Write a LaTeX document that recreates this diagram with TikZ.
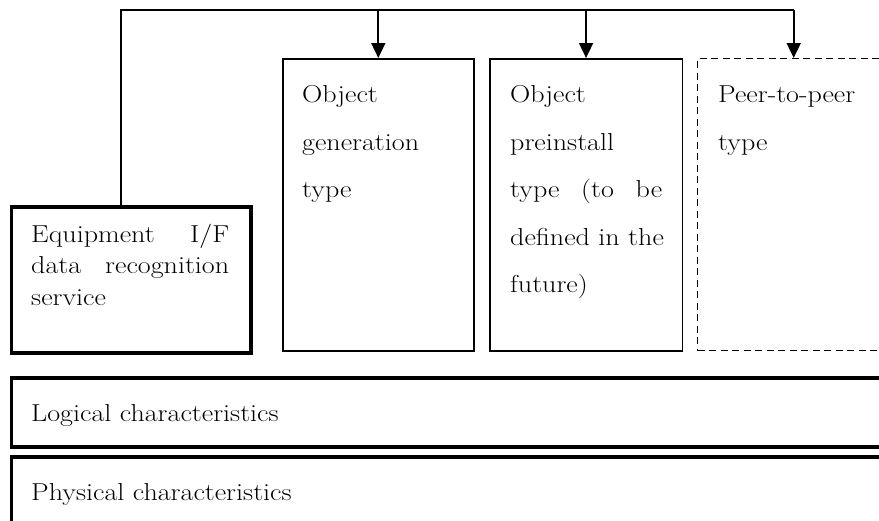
\documentclass[tikz,border=0pt]{standalone}
\usepackage{fontspec}
\setmainfont{Latin Modern Roman}[FakeStretch=1.145]
\usetikzlibrary{arrows.meta}
\tikzset{
  thinbox/.style={draw, line width=1.6pt, inner sep=0pt, anchor=north west},
  thickbox/.style={draw, line width=3.8pt, inner sep=0pt, anchor=north west},
  dashbox/.style={draw, line width=1.4pt, dash pattern=on 7pt off 4.5pt, inner sep=0pt, anchor=north west},
  txt/.style={anchor=base west, inner sep=0pt, font=\fontsize{24.5}{30}\selectfont},
  conn/.style={line width=1.8pt},
  arr/.style={line width=1.8pt, -{Triangle[length=15pt,width=14pt]}},
}
\begin{document}
\begin{tikzpicture}[x=1pt,y=-1pt]
\useasboundingbox (0,0) rectangle (879,520);
\clip (0,0) rectangle (879,520);
% boxes
\node[thickbox, minimum width=239.5pt, minimum height=146pt] (eq) at (9.5,205) {};
\node[thinbox, minimum width=191pt, minimum height=292pt] (gen) at (282,58) {};
\node[thinbox, minimum width=192.5pt, minimum height=292pt] (pre) at (489,58) {};
\node[dashbox, minimum width=192pt, minimum height=292pt] (p2p) at (697,58) {};
\node[thickbox, minimum width=890pt, minimum height=69pt] (log) at (9.5,376) {};
\node[thickbox, minimum width=890pt, minimum height=90pt] (phy) at (9.5,455) {};
% texts
\node[txt] (eq1) at (31,242) {\hbox to 198pt{Equipment\hfill I/F}};
\node[txt] (eq2) at (31,273) {\hbox to 198pt{data\hfill recognition}};
\node[txt] (eq3) at (31,305) {service};
\node[txt] (gen1) at (302,102.5) {Object};
\node[txt] (gen2) at (302,150) {generation};
\node[txt] (gen3) at (302,197.5) {type};
\node[txt] (pre1) at (510,102.5) {Object};
\node[txt] (pre2) at (510,150) {preinstall};
\node[txt] (pre3) at (510,197.5) {\hbox to 152pt{type\hfill(to\hfill be}};
\node[txt] (pre4) at (510,245) {defined in the};
\node[txt] (pre5) at (510,292.5) {future)};
\node[txt] (p2p1) at (718,102.5) {Peer-to-peer};
\node[txt] (p2p2) at (718,150) {type};
\node[txt] (log1) at (31,421) {Logical characteristics};
\node[txt] (phy1) at (31,500) {Physical characteristics};
% connectors
\coordinate (top) at (121,10);
\draw[conn] (top |- eq.north) -- (top) -- (top -| p2p.north);
\draw[arr] (gen.north |- top) -- (gen.north);
\draw[arr] (pre.north |- top) -- (pre.north);
\draw[arr] (p2p.north |- top) -- (p2p.north);
\end{tikzpicture}
\end{document}
